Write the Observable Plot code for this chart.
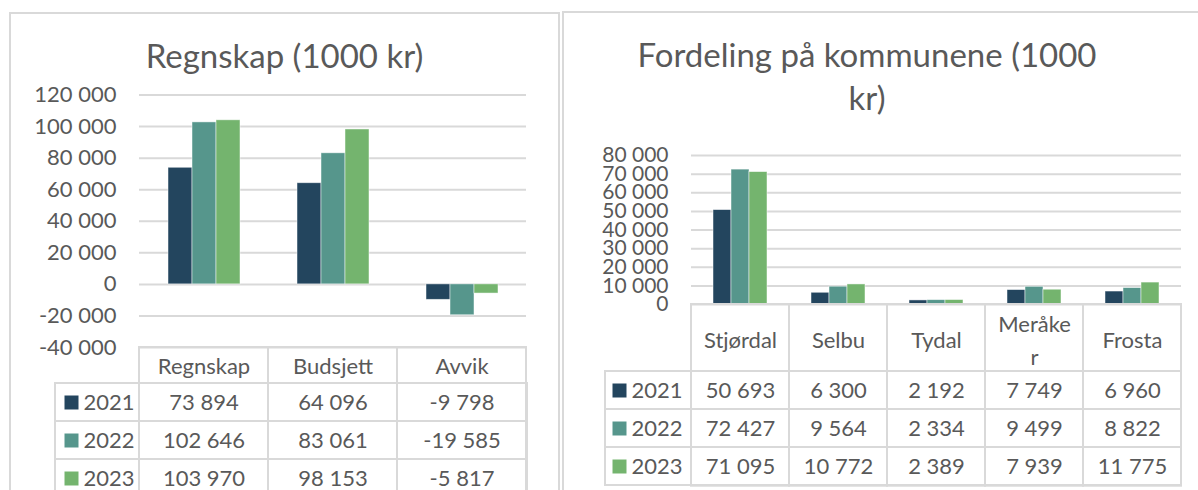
<!DOCTYPE html>
<html><head><meta charset="utf-8">
<script src="https://cdn.jsdelivr.net/npm/d3@7"></script>
<script src="https://cdn.jsdelivr.net/npm/@observablehq/plot@0.6"></script>
<style>
html,body{margin:0;padding:0;background:#fff;}
#root{position:relative;width:1198px;height:490px;overflow:hidden;font-family:Lato,sans-serif;color:#595959;}
.panel{position:absolute;border:2px solid #d9d9d9;box-sizing:border-box;}
.title{position:absolute;text-align:center;font-size:33px;line-height:43px;color:#595959;white-space:nowrap;}
.abs{position:absolute;}
</style></head><body><div id="root"></div>
<script>
// ---- data ----
const years = ["2021", "2022", "2023"];
const colors = ["#23455E", "#56968C", "#74B46E"];

const regCategories = ["Regnskap", "Budsjett", "Avvik"];
const reg2021 = [73894, 64096, -9798];
const reg2022 = [102646, 83061, -19585];
const reg2023 = [103970, 98153, -5817];
const regTicks = [-40000, -20000, 0, 20000, 40000, 60000, 80000, 100000, 120000];

const komCategories = ["Stjørdal", "Selbu", "Tydal", "Meråker", "Frosta"];
const komHeaderLabels = ["Stjørdal", "Selbu", "Tydal", "Meråke\nr", "Frosta"];
const kom2021 = [50693, 6300, 2192, 7749, 6960];
const kom2022 = [72427, 9564, 2334, 9499, 8822];
const kom2023 = [71095, 10772, 2389, 7939, 11775];
const komTicks = [0, 10000, 20000, 30000, 40000, 50000, 60000, 70000, 80000];

// ---- helpers ----
const fmt = d3.formatLocale({decimal: ",", thousands: "\u00a0", grouping: [3], currency: ["", ""], minus: "-"}).format(",d");
const TXT = "#595959", GRID = "#d9d9d9";
const baseStyle = (fs) => ({fontFamily: "Lato, sans-serif", fontSize: fs + "px", color: TXT, background: "transparent", overflow: "visible"});

function longData(cats, series) {
  const out = [];
  cats.forEach((c, i) => years.forEach((y, j) => out.push({cat: c, year: y, value: series[j][i]})));
  return out;
}

function barChart({cats, series, ticks, width, height, ml, mr, mt, mb, fs}) {
  return Plot.plot({
    width, height, marginLeft: ml, marginRight: mr, marginTop: mt, marginBottom: mb,
    style: baseStyle(fs),
    fx: {domain: cats, padding: 0, axis: null},
    x: {domain: years, axis: null, paddingInner: 0, paddingOuter: 1.09},
    y: {domain: [ticks[0], ticks[ticks.length - 1]], ticks, tickFormat: fmt, tickSize: 0, tickPadding: 23, label: null},
    color: {domain: years, range: colors},
    marks: [
      Plot.ruleY(ticks, {stroke: GRID, strokeWidth: 2}),
      Plot.barY(longData(cats, series), {fx: "cat", x: "year", y: "value", fill: "year", stroke: "#fff", strokeWidth: 0.8, strokeOpacity: 0.6})
    ]
  });
}

function tableChart({cats, headerLabels, series, width, height, ml, mr, mt, mb, headerH, legendW, sqDx, txtDx, headerLH}) {
  return Plot.plot({
    width, height, marginLeft: ml, marginRight: mr, marginTop: mt, marginBottom: mb,
    style: baseStyle(22),
    x: {domain: cats, padding: 0, axis: null},
    y: {domain: years, padding: 0, axis: null},
    color: {domain: years, range: colors},
    marks: [
      Plot.cell(cats, {x: d => d, fill: "none", stroke: GRID, strokeWidth: 2, insetTop: -headerH}),
      Plot.cell(years, {y: d => d, fill: "none", stroke: GRID, strokeWidth: 2, insetLeft: -legendW}),
      Plot.text(cats, {x: d => d, text: (d, i) => headerLabels[i], frameAnchor: "top", lineAnchor: "middle", dy: -headerH / 2, fill: TXT, fontSize: 22, lineHeight: headerLH}),
      Plot.text(longData(cats, series), {x: "cat", y: "year", text: d => fmt(d.value), fill: TXT, fontSize: 22}),
      Plot.dot(years, {y: d => d, frameAnchor: "left", dx: sqDx, symbol: "square", r: 7.9, fill: d => d}),
      Plot.text(years, {y: d => d, text: d => d, frameAnchor: "left", dx: txtDx, textAnchor: "start", fill: TXT, fontSize: 22})
    ]
  });
}

const root = document.getElementById("root");
function place(el, left, top) {
  const w = document.createElement("div");
  w.className = "abs";
  w.style.left = left + "px"; w.style.top = top + "px";
  w.appendChild(el);
  root.appendChild(w);
}
function div(cls, css, html) {
  const d = document.createElement("div");
  d.className = cls; Object.assign(d.style, css); d.innerHTML = html;
  root.appendChild(d);
  return d;
}

// panels
div("panel", {left: "9px", top: "12px", width: "551px", height: "520px"}, "");
div("panel", {left: "562px", top: "11px", width: "700px", height: "520px"}, "");

// titles
div("title", {left: "9px", width: "551px", top: "34px"}, "Regnskap (1000 kr)");
div("title", {left: "567px", width: "600px", top: "33px"}, "Fordeling på kommunene (1000<br>kr)");

// left chart
place(barChart({cats: regCategories, series: [reg2021, reg2022, reg2023], ticks: regTicks,
  width: 560, height: 360, ml: 138, mr: 33, mt: 94.5, mb: 13, fs: 22}), 0, 0);
place(tableChart({cats: regCategories, headerLabels: regCategories, series: [reg2021, reg2022, reg2023],
  width: 560, height: 160, ml: 138, mr: 33, mt: 43, mb: 3, headerH: 36, legendW: 83, sqDx: -67, txtDx: -55, headerLH: 1.2}), 0, 340);

// right chart
place(barChart({cats: komCategories, series: [kom2021, kom2022, kom2023], ticks: komTicks,
  width: 638, height: 320, ml: 130, mr: 17, mt: 155, mb: 16, fs: 21}), 560, 0);
place(tableChart({cats: komCategories, headerLabels: komHeaderLabels, series: [kom2021, kom2022, kom2023],
  width: 638, height: 200, ml: 130, mr: 17, mt: 80.5, mb: 4.3, headerH: 66.5, legendW: 85, sqDx: -71, txtDx: -59, headerLH: 1.5}), 560, 290);
</script>
</body></html>
